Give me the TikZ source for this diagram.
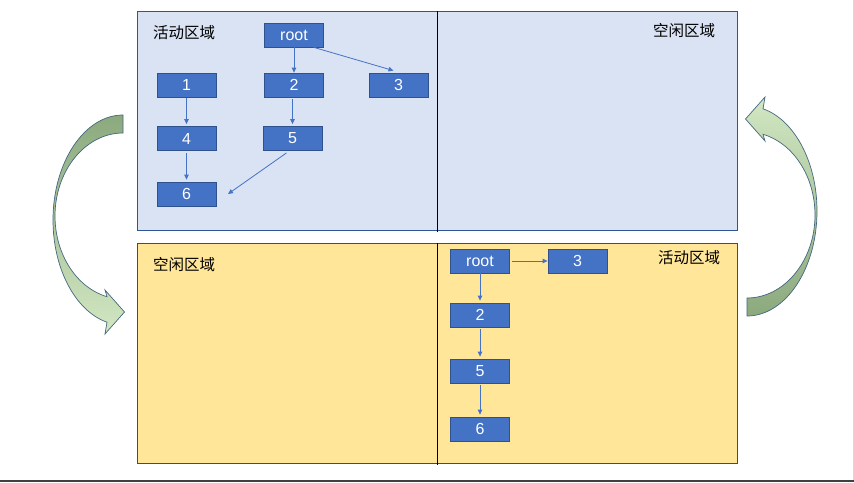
\documentclass[tikz,border=0pt]{standalone}
\usepackage{fontspec}
\setmainfont{Liberation Sans}
\newfontfamily\cjk{Noto Sans CJK SC}
\usetikzlibrary{arrows.meta,calc}
\definecolor{panelblue}{HTML}{DAE3F3}
\definecolor{panelblueline}{HTML}{2F5597}
\definecolor{panelyellow}{HTML}{FFE699}
\definecolor{panelyellowline}{HTML}{3E4F5C}
\definecolor{boxfill}{HTML}{4472C4}
\definecolor{boxline}{HTML}{2F528F}
\definecolor{arrowdark}{HTML}{8CA97E}
\definecolor{arrowlight}{HTML}{D2E7C2}
\definecolor{arrowline}{HTML}{44687F}
\tikzset{
  box/.style={draw=boxline, line width=0.8pt, fill=boxfill, text=white,
    minimum width=59pt, minimum height=24pt, inner sep=0pt,
    font=\fontsize{16}{19}\selectfont},
  link/.style={draw=boxfill, line width=0.8pt,
    -{Triangle[length=5pt,width=4.5pt]}},
  zone/.style={font=\cjk\fontsize{15.5}{18}\selectfont, inner sep=0pt},
  divider/.style={draw=black, line width=0.9pt},
  bigarrow/.style={draw=arrowline, line width=0.7pt}
}
\begin{document}
\begin{tikzpicture}[x=1pt,y=-1pt]
\useasboundingbox (0,0) rectangle (854,482);
% page frame edges
\fill[white] (0,0) rectangle (854,482);
\fill[black!75] (0,480) rectangle (854,482);
\fill[black!15] (852.5,0) rectangle (854,480);

% top panel
\draw[fill=panelblue, draw=panelblueline, line width=0.9pt] (137,11) rectangle (737,230);
\draw[divider] (437,11) -- (437,232);
% bottom panel
\draw[fill=panelyellow, draw=panelyellowline, line width=0.9pt] (137,243) rectangle (737,463);
\draw[divider] (437,243) -- (437,465);

% zone labels
\node[zone] (tl) at (184,33) {活动区域};
\node[zone] (tr) at (684,31) {空闲区域};
\node[zone] (bl) at (184,265) {空闲区域};
\node[zone] (br) at (689,258) {活动区域};

% top tree
\node[box] (troot) at (294,35) {root};
\node[box] (t1) at (186.5,85) {1};
\node[box] (t2) at (294,85) {2};
\node[box] (t3) at (398.5,85) {3};
\node[box] (t4) at (186.5,138.5) {4};
\node[box] (t5) at (292.5,138.5) {5};
\node[box] (t6) at (186.5,194) {6};
\coordinate (t6end) at (228,194);

\draw[link] (troot.south) -- (t2.north);
\draw[link] ($(troot.south east)+(-10,0)$) -- ($(t3.north)+(-5,-2)$);
\draw[link, shorten <=1pt, shorten >=2pt] (t1.south) -- (t4.north);
\draw[link, shorten <=2pt, shorten >=2pt] (t5.north |- t2.south) -- (t5.north);
\draw[link, shorten <=2pt, shorten >=2pt] (t4.south) -- (t6.north);
\draw[link] ($(t5.south)+(-6,2)$) -- (t6end);

% bottom tree
\node[box] (broot) at (480,261) {root};
\node[box] (b3) at (577.5,261) {3};
\node[box] (b2) at (480,315) {2};
\node[box] (b5) at (480,371) {5};
\node[box] (b6) at (480,429) {6};

\draw[link, shorten <=2pt] (broot.east) -- (b3.west);
\draw[link, shorten >=2pt] (broot.south) -- (b2.north);
\draw[link, shorten <=2pt, shorten >=2pt] (b2.south) -- (b5.north);
\draw[link, shorten <=2pt, shorten >=2pt] (b5.south) -- (b6.north);

% left curved arrow (top to bottom)
\path[bigarrow, top color=arrowdark, bottom color=arrowlight]
  (123,115) .. controls (84.5,115) and (53,162.25) .. (53,220)
  .. controls (53,268.75) and (75.4,311.1) .. (107,322.2)
  -- (105,334) -- (124.5,312) -- (105,290) -- (107,296.7)
  .. controls (76.5,287.65) and (55,254.3) .. (55,216)
  .. controls (55,170.35) and (85.6,133) .. (123,133) -- cycle;

% right curved arrow (bottom to top)
\path[bigarrow, top color=arrowlight, bottom color=arrowdark]
  (747,316) .. controls (785.5,316) and (817,268.75) .. (817,211)
  .. controls (817,162.25) and (794.6,119.9) .. (763,108.8)
  -- (765,97) -- (745.5,119) -- (765,141) -- (763,134.3)
  .. controls (793.5,143.35) and (815,176.7) .. (815,215)
  .. controls (815,260.65) and (784.4,298) .. (747,298) -- cycle;
\end{tikzpicture}
\end{document}
